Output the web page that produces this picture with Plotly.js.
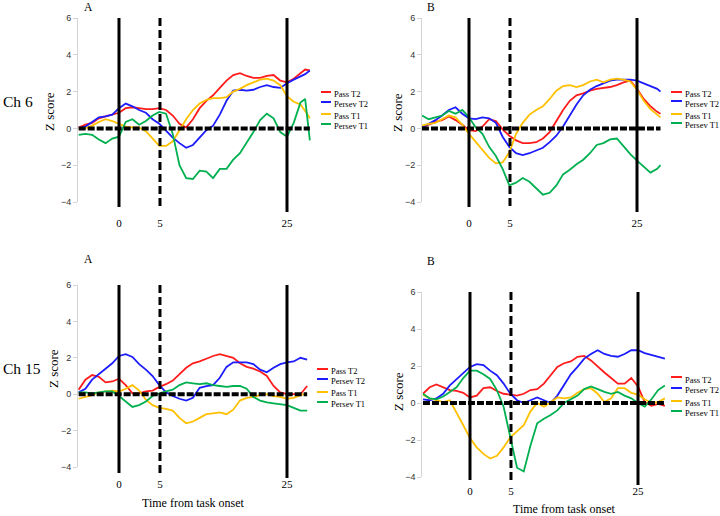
<!DOCTYPE html>
<html><head><meta charset="utf-8">
<script src="https://cdn.plot.ly/plotly-3.0.1.min.js"></script>
<style>html,body{margin:0;padding:0;background:#fff}#chart{width:720px;height:516px}</style>
</head><body><div id="chart"></div>
<script>
// ---------- data ----------
const seriesNames = ['Pass T2', 'Persev T2', 'Pass T1', 'Persev T1'];
const seriesColors = ['#ff1c1c', '#1c1cff', '#ffc000', '#00b050'];
const eventTimes = [0, 6.1, 25];      // onset, 5 s marker, 25 s marker (axis positions)
const eventLabels = ['0', '5', '25'];
const yTickVals = [-4, -2, 0, 2, 4, 6];
const panelLetters = ['A', 'B', 'A', 'B'];
const channelLabels = ['Ch 6', 'Ch 15'];

// Ch 6 - A
const timeCh6A = [-6,-5,-4,-3,-2,-1,0,1,2,3,4,5,6,7,8,9,10,11,12,13,14,15,16,17,18,19,20,21,22,23,24,25,26,27,27.7,28.4];
const passT2Ch6A   = [0.05,0.2,0.3,0.55,0.65,0.75,0.85,1.1,1.15,1.1,1.05,1.05,1.1,1.0,0.7,0.25,0.05,0.5,1.1,1.5,1.8,2.2,2.6,2.9,3.0,2.85,2.75,2.75,2.85,2.9,2.6,2.5,2.7,3.0,3.2,3.15];
const persevT2Ch6A = [0.0,0.1,0.35,0.6,0.65,0.75,1.1,1.35,1.2,1.0,0.85,0.5,0.25,-0.15,-0.5,-0.8,-1.05,-0.9,-0.5,-0.1,0.15,0.75,1.5,2.05,2.1,2.05,2.1,2.25,2.35,2.25,2.2,2.45,2.65,2.85,2.95,3.15];
const passT1Ch6A   = [-0.05,0.0,0.15,0.35,0.5,0.4,0.25,0.1,0.05,0.05,-0.15,-0.55,-0.95,-0.95,-0.7,-0.1,0.5,1.0,1.35,1.55,1.65,1.65,1.7,2.0,2.15,2.35,2.5,2.65,2.7,2.6,2.35,1.75,1.45,1.3,0.95,0.55];
const persevT1Ch6A = [-0.35,-0.3,-0.35,-0.6,-0.8,-0.55,-0.45,0.35,0.5,0.2,0.4,0.7,0.9,0.8,-0.3,-2.0,-2.7,-2.75,-2.3,-2.35,-2.7,-2.2,-2.2,-1.7,-1.35,-0.8,-0.2,0.45,0.8,0.55,-0.2,-0.45,0.3,1.4,1.6,-0.65];

// Ch 6 - B
const timeCh6B = [-7,-6,-5,-4,-3,-2,-1,0,1,2,3,4,5,6,7,8,9,10,11,12,13,14,15,16,17,18,19,20,21,22,23,24,25,26,27,28,28.5];
const passT2Ch6B   = [0.05,0.2,0.35,0.45,0.65,0.45,0.2,-0.1,-0.15,0.1,0.5,0.4,-0.05,-0.4,-0.65,-0.8,-0.8,-0.75,-0.55,-0.2,0.4,1.0,1.5,1.8,1.9,2.05,2.15,2.2,2.25,2.35,2.5,2.6,2.15,1.6,1.2,0.9,0.8];
const persevT2Ch6B = [0.05,0.25,0.45,0.7,1.0,1.15,0.8,0.55,0.5,0.6,0.55,0.3,-0.45,-1.0,-1.35,-1.45,-1.35,-1.2,-1.05,-0.75,-0.4,0.1,0.7,1.3,1.8,2.1,2.3,2.45,2.6,2.65,2.65,2.65,2.6,2.45,2.3,2.15,2.0];
const passT1Ch6B   = [0.15,0.25,0.3,0.5,0.7,0.6,0.2,-0.3,-0.75,-1.2,-1.6,-1.9,-1.85,-1.3,-0.3,0.3,0.75,1.0,1.2,1.6,2.05,2.3,2.35,2.25,2.35,2.55,2.65,2.5,2.65,2.7,2.65,2.55,2.1,1.5,1.05,0.75,0.6];
const persevT1Ch6B = [0.7,0.5,0.6,0.7,0.95,0.8,1.0,0.6,0.05,-0.3,-1.0,-1.5,-2.2,-3.1,-2.95,-2.7,-2.9,-3.25,-3.6,-3.5,-3.1,-2.5,-2.25,-1.95,-1.7,-1.35,-0.9,-0.8,-0.6,-0.55,-1.0,-1.4,-1.75,-2.1,-2.4,-2.2,-2.0];

// Ch 15 - A
const timeCh15A = [-6,-5,-4,-3,-2,-1,0,1,2,3,4,5,6,7,8,9,10,11,12,13,14,15,16,17,18,19,20,21,22,23,24,25,26,27,28];
const passT2Ch15A   = [0.25,0.8,1.05,0.95,0.65,0.7,0.85,0.5,0.05,0.05,0.15,0.2,0.4,0.55,0.75,1.1,1.45,1.7,1.8,1.95,2.1,2.2,2.1,2.0,1.7,1.5,1.4,1.25,1.0,0.45,0.1,0.0,0.0,0.0,0.45];
const persevT2Ch15A = [0.1,0.3,0.8,1.1,1.35,1.7,2.1,2.2,2.05,1.65,1.35,1.0,0.5,0.1,-0.1,-0.25,-0.35,-0.2,0.35,0.45,0.5,0.9,1.5,1.75,1.75,1.75,1.65,1.35,1.2,1.45,1.65,1.75,1.8,2.0,1.9];
const passT1Ch15A   = [-0.25,-0.15,-0.05,0.1,0.15,0.2,0.15,0.3,0.5,0.2,-0.3,-0.6,-0.75,-0.8,-0.9,-1.3,-1.6,-1.5,-1.3,-1.1,-1.05,-1.0,-1.1,-0.85,-0.35,-0.2,-0.15,-0.05,0.0,-0.1,-0.15,-0.25,-0.2,-0.05,0.05];
const persevT1Ch15A = [0.1,0.1,0.05,0.1,0.15,0.15,-0.1,-0.4,-0.7,-0.6,-0.4,-0.1,0.05,0.15,0.25,0.5,0.65,0.6,0.55,0.6,0.5,0.45,0.4,0.45,0.45,0.3,-0.15,-0.35,-0.45,-0.5,-0.55,-0.6,-0.75,-0.9,-0.9];

// Ch 15 - B
const timeCh15B = [-7,-6,-5,-4,-3,-2,-1,0,1,2,3,4,5,6,7,8,9,10,11,12,13,14,15,16,17,18,19,20,21,22,23,24,25,26,27,28,29];
const passT2Ch15B   = [0.5,0.85,1.0,0.85,0.7,0.65,0.55,0.3,0.4,0.8,0.85,0.65,0.5,0.45,0.4,0.5,0.7,0.75,1.05,1.5,1.95,2.15,2.25,2.5,2.55,2.3,1.95,1.65,1.35,1.05,1.05,1.35,0.9,0.05,-0.15,-0.05,-0.15];
const persevT2Ch15B = [0.2,0.15,0.25,0.5,0.95,1.3,1.6,1.95,2.1,2.05,1.75,1.5,1.05,0.5,0.15,0.0,0.15,0.3,0.15,0.0,0.4,1.0,1.55,1.95,2.4,2.65,2.85,2.65,2.55,2.5,2.65,2.85,2.85,2.7,2.6,2.5,2.4];
const passT1Ch15B   = [0.45,0.25,0.15,0.05,0.15,-0.5,-1.2,-1.9,-2.4,-2.75,-3.0,-2.85,-2.4,-1.85,-1.5,-1.2,-0.45,0.0,-0.2,0.05,0.3,0.25,0.3,0.55,0.75,0.8,0.5,0.05,0.25,0.8,0.8,0.55,0.45,0.2,0.0,0.05,0.25];
const persevT1Ch15B = [0.5,0.25,0.2,0.35,0.6,0.85,1.35,1.75,1.75,1.55,1.3,0.7,-0.2,-1.8,-3.5,-3.7,-2.3,-1.1,-0.85,-0.65,-0.4,0.0,0.2,0.4,0.75,0.9,0.75,0.6,0.5,0.6,0.4,0.25,0.0,-0.2,0.2,0.7,0.95];

const panelData = [
  {time: timeCh6A,  values: [passT2Ch6A, persevT2Ch6A, passT1Ch6A, persevT1Ch6A]},
  {time: timeCh6B,  values: [passT2Ch6B, persevT2Ch6B, passT1Ch6B, persevT1Ch6B]},
  {time: timeCh15A, values: [passT2Ch15A, persevT2Ch15A, passT1Ch15A, persevT1Ch15A]},
  {time: timeCh15B, values: [passT2Ch15B, persevT2Ch15B, passT1Ch15B, persevT1Ch15B]}
];

// ---------- layout geometry (pixels) ----------
const W = 720, H = 516, PXU = 6.72;
const geo = [
  {zeroPx:119, range:[-6.1,28.6], yPx:[18,202],  ext:[5,5,10], standoff:13, letter:[88,7],   chY:101, z:[50,112],
   legX:[321,331], legLineY:[92,102,114,124], legTextX:332, legTextY:[94,104,116,126], xTitle:null},
  {zeroPx:469, range:[-7.0,28.7], yPx:[18,202],  ext:[5,5,10], standoff:13, letter:[431,7],  chY:null, z:[398,113],
   legX:[671,682], legLineY:[92,101,114,123], legTextX:682.5, legTextY:[94,104,116,125], xTitle:null},
  {zeroPx:119, range:[-6.1,28.6], yPx:[285,467], ext:[6,6,11], standoff:9,  letter:[88,259], chY:368, z:[53,369],
   legX:[317,328], legLineY:[369,379,392,402], legTextX:329, legTextY:[371,381,393,404], xTitle:[193,503]},
  {zeroPx:470, range:[-7.1,29.3], yPx:[292,477], ext:[3,3,8],  standoff:6,  letter:[431,261], chY:null, z:[398,392],
   legX:[671,682], legLineY:[377,388,401,411], legTextX:682.5, legTextY:[380,390,403,413], xTitle:[564,508.5]}
];
const px = p => p / W, py = p => 1 - p / H;
const serif = 'Liberation Serif, Times New Roman, serif';

const traces = [], shapes = [], annotations = [];
const layout = {
  width: W, height: H, margin: {l:0, r:0, t:0, b:0},
  paper_bgcolor: '#fff', plot_bgcolor: 'rgba(0,0,0,0)',
  showlegend: false, font: {family: serif, color: '#000'}
};

geo.forEach((g, i) => {
  const sfx = i === 0 ? '' : String(i + 1);
  const xa = 'x' + sfx, ya = 'y' + sfx;
  const d = panelData[i];
  const x0px = g.zeroPx + g.range[0] * PXU, x1px = g.zeroPx + g.range[1] * PXU;
  layout['xaxis' + sfx] = {
    domain: [px(x0px), px(x1px)], range: g.range, anchor: ya,
    showline: false, showgrid: false, zeroline: false, ticks: '',
    tickmode: 'array', tickvals: eventTimes, ticktext: eventLabels,
    tickfont: {family: serif, size: 11, color: '#000'}, ticklabelstandoff: g.standoff
  };
  layout['yaxis' + sfx] = {
    domain: [py(g.yPx[1]), py(g.yPx[0])], range: [-4, 6], anchor: xa,
    showline: true, linecolor: '#d4d4d4', linewidth: 1,
    ticks: 'outside', ticklen: 4, tickcolor: '#d4d4d4', tickwidth: 1,
    tickmode: 'array', tickvals: yTickVals,
    showgrid: false, zeroline: false,
    tickfont: {family: 'Liberation Sans, Arial, sans-serif', size: 9, color: '#333'}
  };
  d.values.forEach((v, k) => {
    traces.push({
      type: 'scatter', mode: 'lines', x: d.time, y: v, xaxis: xa, yaxis: ya,
      name: seriesNames[k], line: {color: seriesColors[k], width: 1.8}, hoverinfo: 'skip'
    });
  });
  // zero reference line
  shapes.push({type: 'line', xref: xa, yref: ya, x0: d.time[0], x1: d.time[d.time.length - 1], y0: 0, y1: 0,
    line: {color: '#000', width: 4, dash: '7px,2px'}});
  // event markers
  const hPx = g.yPx[1] - g.yPx[0];
  eventTimes.forEach((t, k) => {
    shapes.push({type: 'line', xref: xa, yref: ya + ' domain', x0: t, x1: t, y0: 1, y1: -g.ext[k] / hPx,
      line: {color: '#000', width: 3, dash: k === 1 ? '8px,4px' : 'solid'}});
  });
  // legend
  seriesNames.forEach((n, k) => {
    shapes.push({type: 'line', xref: 'paper', yref: 'paper', x0: px(g.legX[0]), x1: px(g.legX[1]),
      y0: py(g.legLineY[k]), y1: py(g.legLineY[k]), line: {color: seriesColors[k], width: 2}});
    annotations.push({xref: 'paper', yref: 'paper', x: px(g.legTextX), y: py(g.legTextY[k]),
      xanchor: 'left', yanchor: 'middle', showarrow: false, text: n,
      font: {family: serif, size: 8.5, color: '#000'}});
  });
  annotations.push({xref: 'paper', yref: 'paper', x: px(g.letter[0]), y: py(g.letter[1]), xanchor: 'center', yanchor: 'middle',
    showarrow: false, text: panelLetters[i], font: {family: serif, size: 11.5, color: '#000'}});
  annotations.push({xref: 'paper', yref: 'paper', x: px(g.z[0]), y: py(g.z[1]), xanchor: 'center', yanchor: 'middle',
    textangle: -90, showarrow: false, text: 'Z score', font: {family: serif, size: 13, color: '#000'}});
  if (g.chY !== null) {
    annotations.push({xref: 'paper', yref: 'paper', x: px(1), y: py(g.chY), xanchor: 'left', yanchor: 'middle',
      showarrow: false, text: channelLabels[i === 0 ? 0 : 1], font: {family: serif, size: 15.5, color: '#000'}});
  }
  if (g.xTitle) {
    annotations.push({xref: 'paper', yref: 'paper', x: px(g.xTitle[0]), y: py(g.xTitle[1]), xanchor: 'center', yanchor: 'middle',
      showarrow: false, text: 'Time from task onset', font: {family: serif, size: 12, color: '#000'}});
  }
});
layout.shapes = shapes;
layout.annotations = annotations;
Plotly.newPlot('chart', traces, layout, {displayModeBar: false, staticPlot: true});
</script>
</body></html>
